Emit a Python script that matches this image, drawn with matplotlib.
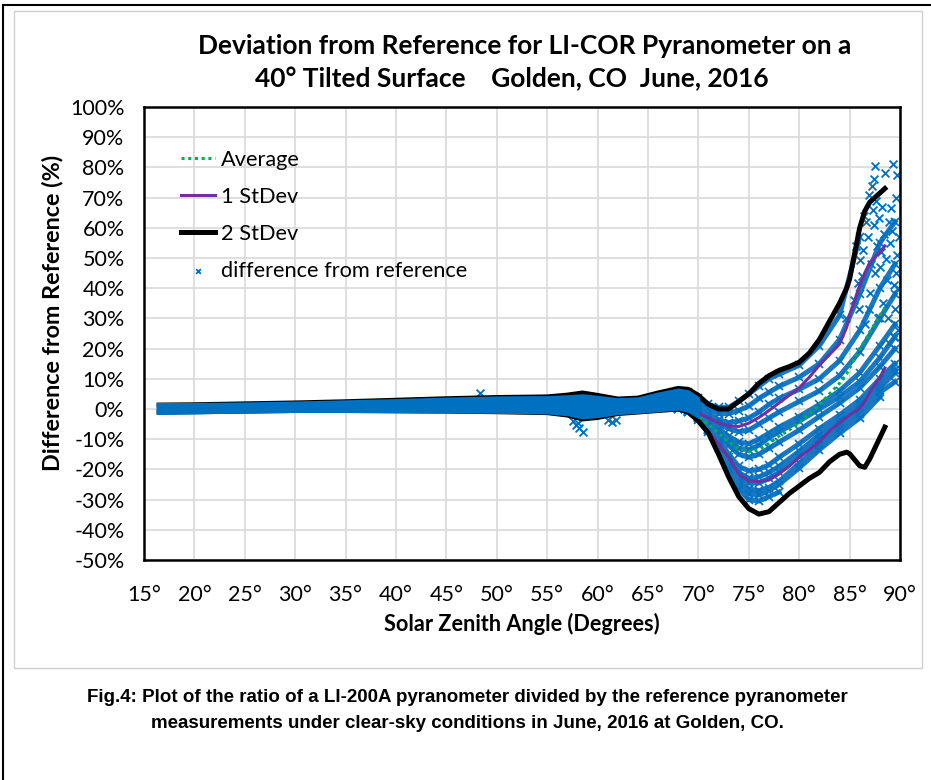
import numpy as np
import matplotlib
matplotlib.use("Agg")
import matplotlib.pyplot as plt
from matplotlib.patches import Rectangle
from matplotlib.lines import Line2D

# --- data (percent difference vs solar zenith angle) ---
sza_stat = [16.5, 20, 25, 30, 35, 40, 45, 50, 55, 57, 58.5, 60, 62, 64, 66, 68, 69,
            70, 71, 72, 73, 74, 75, 76, 77, 78, 79, 80, 81, 82, 83, 84, 84.7, 85,
            86, 86.5, 87, 88, 88.5]
avg = [0.4, 0.5, 0.7, 0.9, 1.2, 1.4, 1.7, 1.8, 1.6, 1.5, 1.2, 1.2, 1.1, 1.4, 2.1, 2.0, -0.5,
       -2.6, -5.2, -8.0, -10.8, -13.3, -14.2, -13.4, -11.4, -9.0, -7.0, -4.5, -1.6, 1.5, 5.0, 8.5, 11.6, 13.5,
       20.0, 22.5, 25.5, 31.0, 33.5]
sd1_hi = [0.9, 1.0, 1.2, 1.5, 1.8, 2.1, 2.5, 2.8, 2.8, 3.0, 3.3, 2.9, 2.2, 2.5, 3.0, 1.5, 0.5,
          -1.2, -3.0, -4.6, -5.6, -5.8, -4.7, -2.8, -0.5, 2.0, 4.5, 7.0, 10.5, 14.5, 18.0, 21.5, 27.0, 31.0,
          41.0, 45.0, 48.5, 52.0, 54.0]
sd1_lo = [-0.1, 0.0, 0.2, 0.4, 0.6, 0.8, 0.9, 0.9, 0.5, 0.0, -0.9, -0.5, 0.0, 0.3, 0.8, 0.5, -1.5,
          -4.0, -7.5, -11.5, -16.0, -21.5, -23.8, -24.0, -23.5, -21.5, -19.0, -16.0, -13.5, -10.8, -7.3, -4.5, -2.8, -2.0,
          0.3, 2.5, 5.5, 10.5, 13.6]
sd2_hi = [1.3, 1.4, 1.7, 2.0, 2.4, 2.9, 3.4, 3.8, 4.0, 4.6, 5.3, 4.5, 3.3, 3.6, 5.3, 6.8, 6.5,
          4.5, 1.5, 0.0, 0.0, 2.5, 5.0, 8.5, 11.0, 12.8, 14.0, 15.5, 18.5, 23.0, 29.0, 35.0, 40.0, 43.0,
          60.0, 65.5, 68.5, 71.5, 73.0]
sd2_lo = [-1.0, -0.9, -0.7, -0.5, -0.5, -0.6, -0.7, -0.9, -1.2, -2.0, -3.3, -2.8, -1.5, -1.0, -0.5, 0.0, -1.0,
          -4.0, -8.0, -15.0, -22.5, -29.0, -33.0, -34.8, -34.0, -31.0, -28.0, -25.5, -23.0, -21.0, -17.5, -15.0, -14.3, -14.8,
          -18.8, -19.3, -16.5, -9.5, -6.0]

# dense part of the scatter (all days overlap here)
band_sza = [16.3, 20, 25, 30, 35, 40, 45, 50, 55, 57, 58.5, 60, 62, 64, 66, 68, 69, 70]
band_hi = [1.8, 1.8, 2.0, 2.3, 2.7, 3.1, 3.6, 4.0, 4.1, 4.4, 4.7, 4.2, 3.4, 3.7, 5.3, 6.6, 6.0, 3.8]
band_lo = [-1.5, -1.3, -1.0, -0.8, -0.8, -0.9, -1.0, -1.1, -1.3, -1.9, -2.9, -2.5, -1.5, -1.1, -0.6, 0.0, -0.8, -2.8]

# individual day traces at high zenith angles
fan_sza = [68, 69, 70, 71, 72, 73, 74, 75, 76, 77, 78, 80, 82, 84, 86, 88, 89.5]
fan_traces = [
    [6.0, 5.5, 3.5, 1.5, 0.5, 0.5, 2.5, 5.0, 7.5, 10.0, 11.5, 14.5, 21.0, 31.0, 57.0, np.nan, np.nan],
    [4.5, 4.0, 2.0, 0.0, -1.5, -1.5, -0.5, 1.0, 3.5, 5.5, 7.5, 10.5, 15.0, 23.0, 38.0, 55.0, 62.0],
    [3.5, 3.0, 1.0, -1.5, -3.5, -4.5, -4.0, -3.0, -1.0, 1.5, 3.5, 6.5, 10.0, 16.0, 26.0, 40.0, 48.0],
    [2.5, 2.0, 0.0, -2.5, -5.0, -6.5, -7.5, -7.0, -5.0, -3.0, -1.0, 2.5, 6.0, 11.0, 19.0, 30.0, 38.0],
    [2.0, 1.0, -0.5, -3.5, -6.5, -9.0, -11.0, -11.5, -10.0, -8.0, -6.0, -2.5, 1.5, 6.0, 12.0, 21.0, 28.0],
    [1.0, 0.0, -1.5, -4.0, -7.0, -10.5, -13.0, -13.5, -12.0, -9.5, -7.5, -4.0, 0.0, 4.0, 9.0, 17.0, 24.0],
    [1.5, 0.5, -1.0, -4.5, -8.0, -12.0, -15.0, -16.0, -15.0, -13.0, -11.0, -7.0, -2.5, 2.0, 7.0, 14.0, 20.0],
    [1.0, 0.0, -2.0, -5.5, -10.0, -15.0, -19.0, -20.5, -20.0, -18.5, -16.0, -11.5, -6.5, -2.0, 3.0, 10.0, 15.0],
    [0.5, -0.5, -2.5, -6.0, -10.5, -16.0, -21.0, -23.0, -22.5, -21.0, -19.0, -14.0, -8.5, -3.5, 1.5, 8.0, 13.0],
    [0.5, -0.5, -2.5, -6.5, -11.5, -17.5, -22.5, -24.5, -24.5, -23.0, -21.0, -15.5, -10.0, -5.0, 0.0, 7.0, 12.0],
    [0.0, -1.0, -3.0, -7.0, -12.0, -18.5, -24.0, -26.5, -27.0, -26.0, -24.0, -18.0, -12.0, -6.5, -1.5, 5.5, 9.0],
    [0.0, -1.0, -3.0, -7.0, -12.5, -19.0, -25.0, -28.0, -28.5, -27.0, -25.0, -19.5, -13.5, -8.0, -3.0, 4.0, np.nan],
    [0.0, -1.0, -3.5, -7.5, -13.0, -20.0, -26.5, -30.0, -30.5, -29.0, -27.5, np.nan, np.nan, np.nan, np.nan, np.nan, np.nan],
]

# scattered single readings
out_sza = [48.3, 57.6, 57.9, 58.1, 58.2, 58.6, 61.0, 61.4, 61.8,
           87.5, 89.3, 88.5, 87.2, 89.7, 87.9, 88.9, 89.2, 86.8, 87.7, 86.3, 88.6, 87.5, 88.7,
           86.0, 89.4, 87.0, 85.8, 88.2, 89.6, 86.6, 87.3, 89.0, 88.0, 89.7, 86.9, 88.3, 89.5,
           87.8, 89.8, 86.5, 88.9, 89.6, 87.6, 88.4, 89.1, 86.2, 85.4, 84.6, 89.9, 89.4, 88.1,
           87.1, 85.9, 89.8, 88.8, 87.4, 86.4, 86.9, 87.4, 85.6]
out_pct = [5.4, -4.0, -5.3, -4.6, -6.2, -7.5, -3.5, -4.3, -3.8,
           80.3, 81.0, 78.0, 73.7, 77.5, 63.3, 62.0, 59.0, 57.0, 53.9, 52.8, 49.6, 45.0, 42.6,
           49.5, 40.9, 38.5, 41.8, 67.0, 70.0, 62.0, 66.0, 55.0, 47.0, 51.0, 33.0, 35.0, 33.0,
           30.0, 26.0, 28.0, 22.0, 45.0, 69.0, 58.0, 66.5, 44.0, 36.0, 30.0, 57.0, 24.0, 52.0,
           48.0, 33.0, 40.0, 30.0, 61.0, 64.0, 71.0, 76.0, 54.0]

blue = "#0070C0"
W, H = 931, 780
LEFT, RIGHT, TOP, BOTTOM = 144, 900, 107, 560

fig = plt.figure(figsize=(W / 100, H / 100), dpi=100)
ax = fig.add_axes([LEFT / W, 1 - BOTTOM / H, (RIGHT - LEFT) / W, (BOTTOM - TOP) / H])

# page border (top and left only) and chart area frame
fig.add_artist(Line2D([3 / W, 1], [1 - 5 / H, 1 - 5 / H], transform=fig.transFigure, color="black", lw=1.5))
fig.add_artist(Line2D([3 / W, 3 / W], [0, 1 - 5 / H], transform=fig.transFigure, color="black", lw=1.5))
fig.add_artist(Rectangle((14 / W, 1 - 668 / H), (922 - 14) / W, (668 - 11) / H, transform=fig.transFigure,
                         fill=False, edgecolor="#D0D0D0", lw=1))

# scatter: fan traces, dense band, outliers
for tr in fan_traces:
    ax.plot(fan_sza, tr, color="#1A78C2", lw=3.6, marker="x", ms=6, mew=1.2, mec=blue, zorder=3)
ax.fill_between(band_sza, band_lo, band_hi, color=blue, lw=1.5, edgecolor=blue, zorder=6)
sc = ax.scatter(out_sza, out_pct, marker="x", s=32, color=blue, linewidths=1.3, zorder=3,
                label="difference from reference")

l_avg, = ax.plot(sza_stat, avg, color="#00B050", lw=2.2, ls=(0, (1, 1.2)), zorder=5, label="Average")
l_sd1, = ax.plot(sza_stat, sd1_hi, color="#7030A0", lw=2.2, zorder=5, label="1 StDev")
ax.plot(sza_stat, sd1_lo, color="#7030A0", lw=2.2, zorder=5)
l_sd2, = ax.plot(sza_stat, sd2_hi, color="black", lw=3.6, zorder=5, label="2 StDev")
ax.plot(sza_stat, sd2_lo, color="black", lw=3.6, zorder=5)

ax.set_xlim(15, 90)
ax.set_ylim(-50, 100)
ax.set_xticks(np.arange(15, 91, 5))
ax.set_yticks(np.arange(-50, 101, 10))
ax.set_xticklabels([f"{v}\u00b0" for v in range(15, 91, 5)])
ax.set_yticklabels([f"{v}%" for v in range(-50, 101, 10)])
ax.tick_params(length=0, labelsize=15.5)
ax.tick_params(axis="x", pad=18)
ax.tick_params(axis="y", pad=14)
for lab in ax.get_xticklabels() + ax.get_yticklabels():
    lab.set_family("Lato")
ax.grid(True, color="#D9D9D9", lw=1.2)
ax.set_axisbelow(True)
for s in ax.spines.values():
    s.set_color("black")
    s.set_linewidth(1.8)
    s.set_zorder(8)

ax.set_xlabel("Solar Zenith Angle (Degrees)", family="Lato", fontweight="bold", fontsize=15.6)
ax.set_ylabel("Difference from Reference (%)", family="Lato", fontweight="bold", fontsize=16.8)
ax.xaxis.set_label_coords(0.5, -(613 - BOTTOM) / (BOTTOM - TOP))
ax.yaxis.set_label_coords((63 - LEFT) / (RIGHT - LEFT), (BOTTOM - 313) / (BOTTOM - TOP))

leg = ax.legend(handles=[l_avg, l_sd1, l_sd2, sc], loc="upper left",
                bbox_to_anchor=((181 - LEFT) / (RIGHT - LEFT), 1 - (150 - TOP) / (BOTTOM - TOP)),
                frameon=False, prop={"family": "Lato", "size": 15.7},
                handlelength=1.56, handletextpad=0.28, labelspacing=0.78, borderpad=0, borderaxespad=0,
                markerscale=0.6)

fig.text(525 / W, 1 - 46 / H, "Deviation from Reference for LI-COR Pyranometer on a",
         ha="center", va="center", family="Lato", fontweight="bold", fontsize=19)
fig.text(512 / W, 1 - 79 / H, "40\u00b0 Tilted Surface    Golden, CO  June, 2016",
         ha="center", va="center", family="Lato", fontweight="bold", fontsize=19)

fig.text(467 / W, 1 - 697 / H,
         "Fig.4: Plot of the ratio of a LI-200A pyranometer divided by the reference pyranometer",
         ha="center", va="center", family="Liberation Sans", fontweight="bold", fontsize=13.5)
fig.text(467 / W, 1 - 723 / H,
         "measurements under clear-sky conditions in June, 2016 at Golden, CO.",
         ha="center", va="center", family="Liberation Sans", fontweight="bold", fontsize=13.5)

fig.savefig("out.png", dpi=100)
